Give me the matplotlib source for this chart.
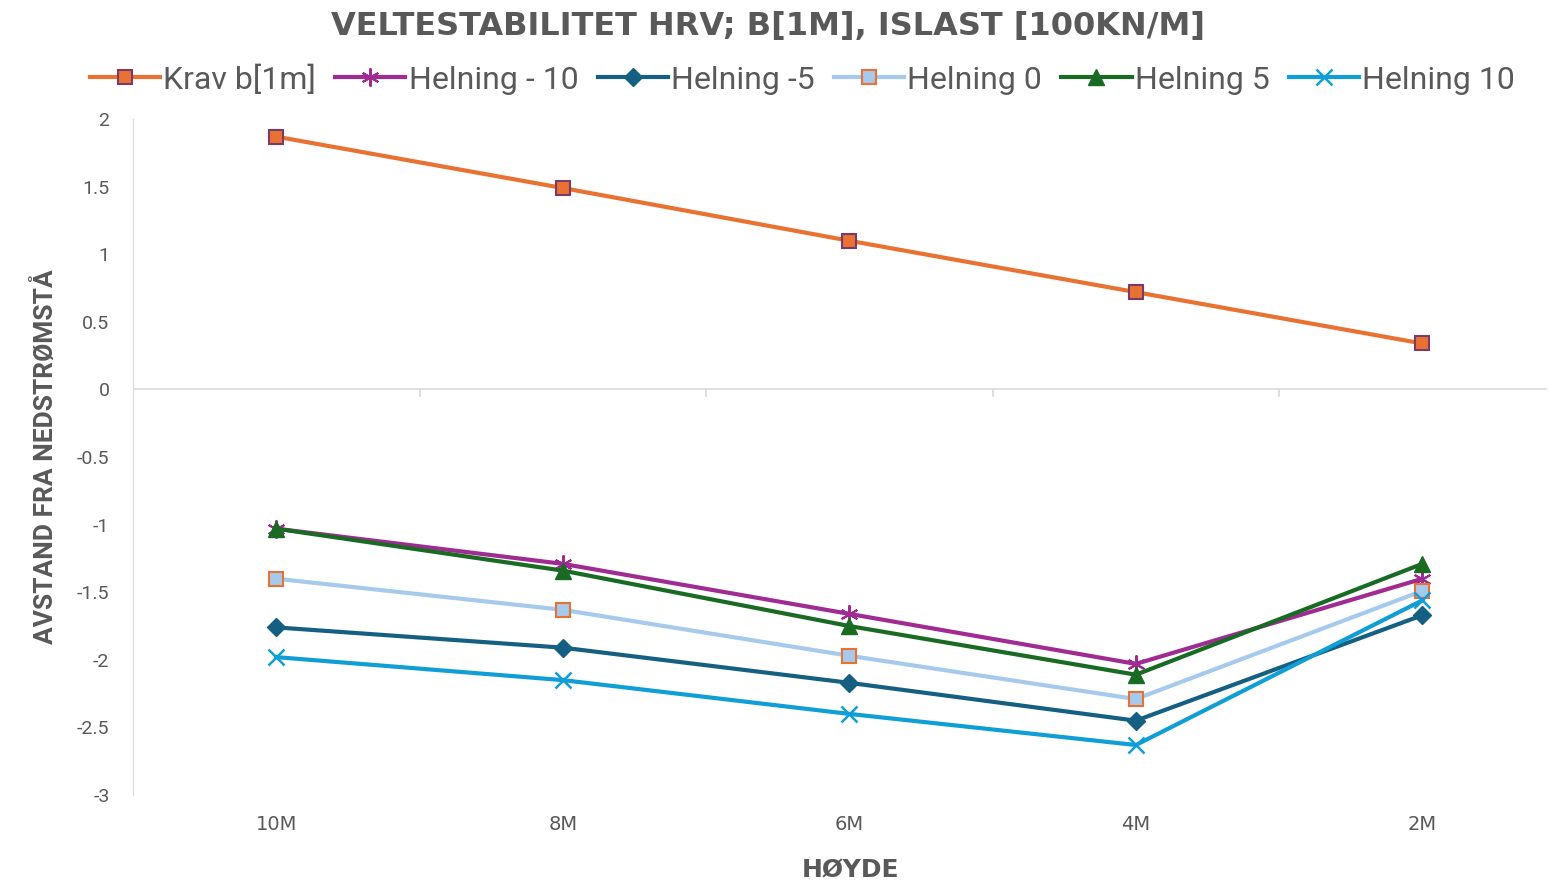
import numpy as np
import matplotlib.pyplot as plt

hoyde = ["10M", "8M", "6M", "4M", "2M"]
krav = [1.87, 1.49, 1.10, 0.72, 0.34]
h_m10 = [-1.03, -1.29, -1.66, -2.03, -1.40]
h_m5 = [-1.76, -1.91, -2.17, -2.45, -1.67]
h_0 = [-1.40, -1.63, -1.97, -2.29, -1.49]
h_5 = [-1.03, -1.34, -1.75, -2.11, -1.29]
h_10 = [-1.98, -2.15, -2.40, -2.63, -1.56]

plt.rcParams['font.family'] = ['Roboto', 'DejaVu Sans']
grey = "#595959"

fig = plt.figure(figsize=(15.49, 8.82), dpi=100)
ax = fig.add_axes([0.0859, 0.0986, 0.9128, 0.7664])
x = np.arange(len(hoyde))

ax.plot(x, krav, color="#E97132", lw=3, marker="s", ms=10, mfc="#E97132",
        mec="#7A3B6A", mew=1.5, label="Krav b[1m]", zorder=3)
ax.plot(x, h_m10, color="#A02B93", lw=3, marker=(6, 2, 0), ms=13, mec="#A02B93",
        mew=1.5, label="Helning - 10", zorder=3)
ax.plot(x, h_m5, color="#156082", lw=3, marker="D", ms=9, label="Helning -5", zorder=3)
ax.plot(x, h_0, color="#A6CAEC", lw=3, marker="s", ms=10, mfc="#A6CAEC",
        mec="#E97132", mew=1.5, label="Helning 0", zorder=3)
ax.plot(x, h_5, color="#196B24", lw=3, marker="^", ms=11, label="Helning 5", zorder=3)
ax.plot(x, h_10, color="#0F9ED5", lw=3, marker="x", ms=12, mew=1.8,
        label="Helning 10", zorder=3)

ax.set_xlim(-0.5, 4.435)
ax.set_ylim(-3, 2)
ax.set_yticks([2, 1.5, 1, 0.5, 0, -0.5, -1, -1.5, -2, -2.5, -3])
ax.set_yticklabels(["2", "1.5", "1", "0.5", "0", "-0.5", "-1", "-1.5", "-2", "-2.5", "-3"])
ax.tick_params(axis="y", length=0, labelsize=14, labelcolor=grey, pad=17)
ax.set_xticks([])

for s in ["top", "right", "bottom"]:
    ax.spines[s].set_visible(False)
ax.spines["left"].set_color("#D9D9D9")
ax.axhline(0, color="#D9D9D9", lw=1.2, zorder=1)
for b in [0.5, 1.5, 2.5, 3.5]:
    ax.plot([b, b], [0, -0.05], color="#D9D9D9", lw=1.2, zorder=1)

for i, lab in enumerate(hoyde):
    ax.text(i, -3.22, lab, ha="center", va="center", fontsize=14,
            color=grey, family="DejaVu Sans")

ax.set_ylabel("AVSTAND FRA NEDSTRØMSTÅ", fontsize=19, fontweight="bold",
              color=grey, labelpad=14)
fig.text(0.549, 0.027, "HØYDE", ha="center", va="top", fontsize=18,
         fontweight="bold", color=grey, family="DejaVu Sans")

fig.suptitle("VELTESTABILITET HRV; B[1M], ISLAST [100KN/M]", x=0.496, y=0.987,
             fontsize=23, fontweight="bold", color=grey, family="DejaVu Sans")

fig.legend(loc="center", bbox_to_anchor=(0.518, 0.91), ncol=6, frameon=False,
           fontsize=23, handlelength=2.2, columnspacing=0.6, handletextpad=0.1,
           labelcolor=grey)

fig.savefig("out.png", dpi=100)
